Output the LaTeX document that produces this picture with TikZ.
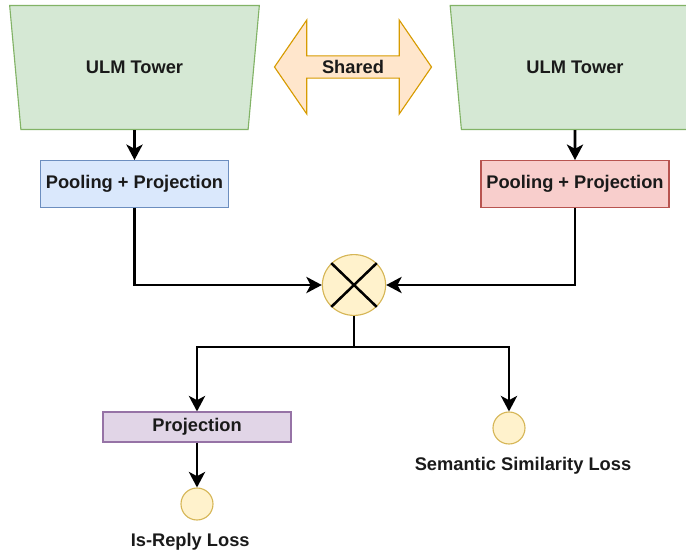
\documentclass[tikz,border=0pt]{standalone}
\usepackage{fontspec}
\setmainfont{Liberation Sans}
\usepackage{tikz}
\usetikzlibrary{arrows.meta,positioning,shapes.geometric,shapes.arrows}
\definecolor{towergreen}{HTML}{D5E8D4}
\definecolor{towerline}{HTML}{82B366}
\definecolor{poolblue}{HTML}{DAE8FC}
\definecolor{poolblueline}{HTML}{6C8EBF}
\definecolor{poolred}{HTML}{F8CECC}
\definecolor{poolredline}{HTML}{B85450}
\definecolor{projpurple}{HTML}{E1D5E7}
\definecolor{projline}{HTML}{9673A6}
\definecolor{sharedfill}{HTML}{FFE6CC}
\definecolor{sharedline}{HTML}{D79B00}
\definecolor{lossfill}{HTML}{FFF2CC}
\definecolor{lossline}{HTML}{D6B656}
\definecolor{inkdark}{HTML}{1A1A1A}

\begin{document}
\begin{tikzpicture}[x=0.025cm, y=-0.025cm, >={Stealth[length=11pt,width=11.5pt,inset=3pt]},
  font=\bfseries\fontsize{13}{15.5}\selectfont, text=inkdark,
  tower/.style={draw=towerline, fill=towergreen, trapezium, shape border rotate=180, trapezium angle=76.6, trapezium stretches=true, minimum width=6.25cm, minimum height=3.1cm, line width=0.8pt},
  pool/.style={draw, minimum width=4.7cm, minimum height=1.17cm, line width=0.8pt},
  proj/.style={draw=projline, fill=projpurple, minimum width=4.7cm, minimum height=0.75cm, line width=0.8pt},
  loss/.style={draw=lossline, fill=lossfill, circle, minimum size=0.8cm, inner sep=0pt, line width=0.8pt},
  lab/.style={inner sep=1pt},
  link/.style={->, line width=2pt}]
\useasboundingbox (0,0) rectangle (686,553);
\node[tower] (T1) at (134.5,67.5) {ULM Tower};
\node[tower] (T2) at (575,67.5) {ULM Tower};
\node[draw=sharedline, fill=sharedfill, double arrow, double arrow tip angle=111, double arrow head extend=0.81cm, minimum height=3.925cm, minimum width=2.35cm, inner sep=2pt, line width=0.8pt] (S) at (353,67) {Shared};
\node[pool, draw=poolblueline, fill=poolblue] (P1) at (134.5,184) {Pooling + Projection};
\node[pool, draw=poolredline, fill=poolred] (P2) at (575,184) {Pooling + Projection};
\node[draw=lossline, fill=lossfill, ellipse, minimum width=1.58cm, minimum height=1.52cm, line width=0.8pt] (X) at (354,285) {};
\draw[line width=1.8pt] (X.north west) -- (X.south east) (X.north east) -- (X.south west);
\coordinate (split) at (354,347);
\node[proj] (R) at (197,427) {Projection};
\node[loss] (L1) at (197,504) {};
\node[loss] (L2) at (509,428) {};
\node[lab, below=0.28cm of L1, xshift=-0.17cm] (N1) {Is-Reply Loss};
\node[lab, below=0.28cm of L2, xshift=0.35cm] (N2) {Semantic Similarity Loss};
\draw[link] (T1.south) -- (P1.north);
\draw[link] (T2.south) -- (P2.north);
\draw[link] (P1.south) |- (X.west);
\draw[link] (P2.south) |- (X.east);
\draw[line width=2pt] (X.south) -- (split);
\draw[link] (split) -| (R.north);
\draw[link] (split) -| (L2.north);
\draw[link] (R.south) -- (L1.north);
\end{tikzpicture}
\end{document}
